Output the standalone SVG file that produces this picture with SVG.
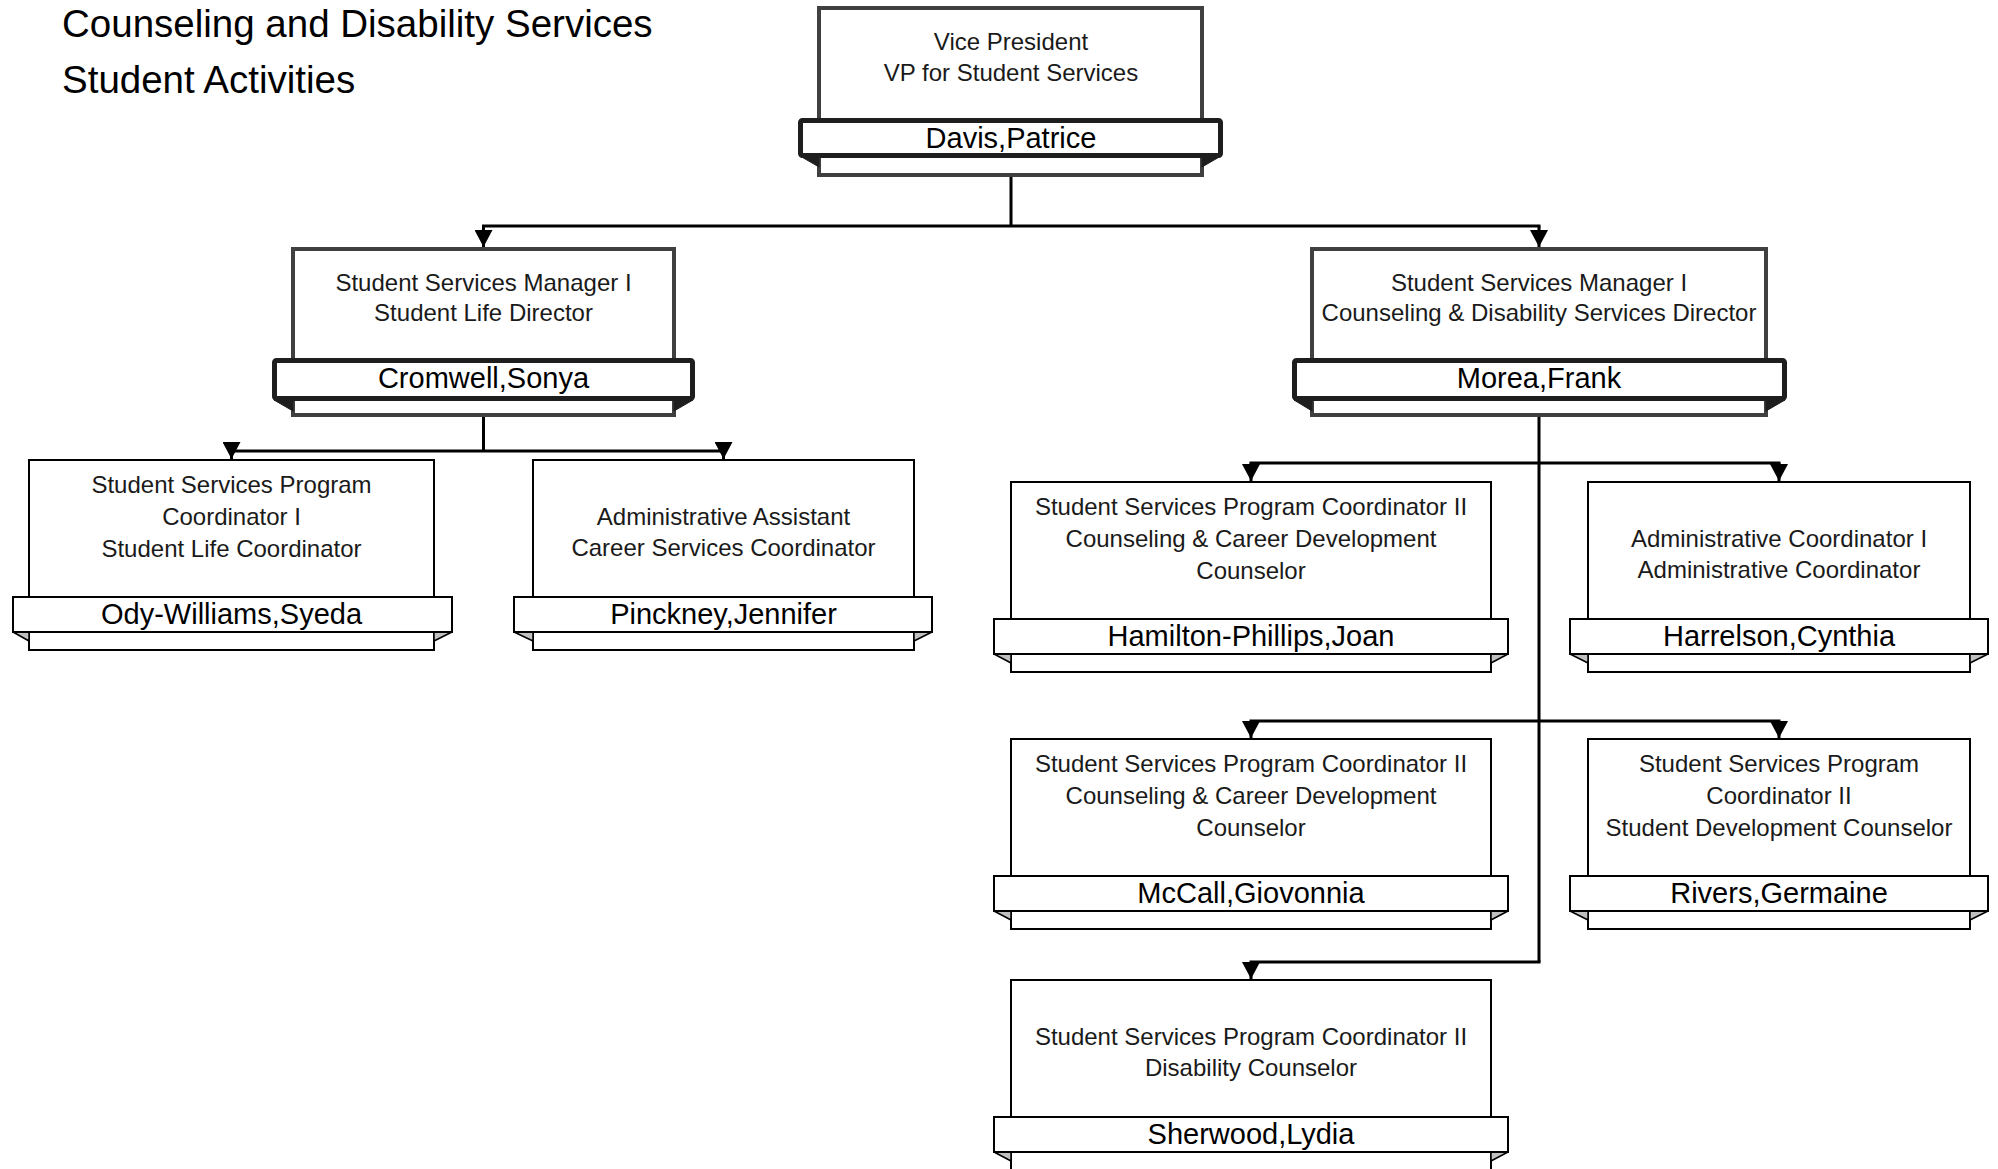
<svg xmlns="http://www.w3.org/2000/svg" width="1998" height="1169" viewBox="0 0 1998 1169">
<style>
.bg{fill:#fff}
.boxM{fill:#fff;stroke:#404040;stroke-width:4}
.bandM{fill:#fff;stroke:#1e1e1e;stroke-width:5}
.foldM{fill:#1e1e1e;stroke:#1e1e1e;stroke-width:1;stroke-linejoin:round}
.box3{fill:#fff;stroke:#000;stroke-width:2}
.band3{fill:#fff;stroke:#000;stroke-width:2}
.fold3{fill:#c0c0c0;stroke:#000;stroke-width:1.5;stroke-linejoin:round}
.t{font-family:"Liberation Sans",Arial,sans-serif;font-size:24px;fill:#1a1a1a;text-anchor:middle}
.n{font-family:"Liberation Sans",Arial,sans-serif;font-size:29px;fill:#000;text-anchor:middle}
.h{font-family:"Liberation Sans",Arial,sans-serif;font-size:38.5px;fill:#000}
.c{fill:none;stroke:#000;stroke-width:3}
.ch{fill:none;stroke:#000;stroke-width:3;stroke-linecap:square}
.a{fill:none;stroke:#000;stroke-width:3;marker-end:url(#arr)}
</style>
<defs>
<marker id="arr" viewBox="0 -9 17 18" refX="17" refY="0" markerWidth="17" markerHeight="18" markerUnits="userSpaceOnUse" orient="auto">
<path d="M0,-9 L17,0 L0,9 z" fill="#000"/>
</marker>
</defs>
<rect class="bg" x="0" y="0" width="1998" height="1169"/>

<g id="header">
<text class="h" x="62" y="37">Counseling and Disability Services</text>
<text class="h" x="62" y="93">Student Activities</text>
</g>

<g id="connectors">
<path class="c" d="M1011,177 V226"/>
<path class="ch" d="M483.5,226 H1539"/>
<path class="a" d="M483.5,226 V247"/>
<path class="a" d="M1539,226 V247"/>
<path class="c" d="M483.5,417 V451"/>
<path class="ch" d="M231.5,451 H723.5"/>
<path class="a" d="M231.5,451 V459"/>
<path class="a" d="M723.5,451 V459"/>
<path class="c" d="M1539,417 V962"/>
<path class="ch" d="M1251,463 H1779"/>
<path class="ch" d="M1251,721 H1779"/>
<path class="ch" d="M1251,962 H1539"/>
<path class="a" d="M1251,463 V481"/>
<path class="a" d="M1779,463 V481"/>
<path class="a" d="M1251,721 V738"/>
<path class="a" d="M1779,721 V738"/>
<path class="a" d="M1251,962 V979"/>
</g>

<g id="n-vp">
<rect class="boxM" x="819" y="8" width="383" height="167"/>
<polygon class="foldM" points="800,156 819,156 819,167"/>
<polygon class="foldM" points="1221,156 1202,156 1202,167"/>
<rect class="bandM" x="800.5" y="120.5" width="420" height="35" rx="2"/>
<text class="t" x="1011" y="50">Vice President</text>
<text class="t" x="1011" y="81">VP for Student Services</text>
<text class="n" x="1011" y="148">Davis,Patrice</text>
</g>

<g id="n-cromwell">
<rect class="boxM" x="293" y="249" width="381" height="166"/>
<polygon class="foldM" points="274,400 293,400 293,411"/>
<polygon class="foldM" points="693,400 674,400 674,411"/>
<rect class="bandM" x="274.5" y="360.5" width="418" height="38" rx="2"/>
<text class="t" x="483.5" y="291">Student Services Manager I</text>
<text class="t" x="483.5" y="321">Student Life Director</text>
<text class="n" x="483.5" y="388">Cromwell,Sonya</text>
</g>

<g id="n-morea">
<rect class="boxM" x="1312" y="249" width="454" height="166"/>
<polygon class="foldM" points="1294,400 1312,400 1312,411"/>
<polygon class="foldM" points="1785,400 1766,400 1766,411"/>
<rect class="bandM" x="1294.5" y="360.5" width="490" height="38" rx="2"/>
<text class="t" x="1539" y="291">Student Services Manager I</text>
<text class="t" x="1539" y="321">Counseling &amp; Disability Services Director</text>
<text class="n" x="1539" y="388">Morea,Frank</text>
</g>

<g id="n-ody-williams">
<rect class="box3" x="29" y="460" width="405" height="190"/>
<polygon class="fold3" points="13,632 29,632 29,641"/>
<polygon class="fold3" points="452,632 434,632 434,641"/>
<rect class="band3" x="13" y="597" width="439" height="35"/>
<text class="t" x="231.5" y="493">Student Services Program</text>
<text class="t" x="231.5" y="525">Coordinator I</text>
<text class="t" x="231.5" y="557">Student Life Coordinator</text>
<text class="n" x="231.5" y="624">Ody-Williams,Syeda</text>
</g>

<g id="n-pinckney">
<rect class="box3" x="533" y="460" width="381" height="190"/>
<polygon class="fold3" points="514,632 533,632 533,641"/>
<polygon class="fold3" points="932,632 914,632 914,641"/>
<rect class="band3" x="514" y="597" width="418" height="35"/>
<text class="t" x="723.5" y="525">Administrative Assistant</text>
<text class="t" x="723.5" y="556">Career Services Coordinator</text>
<text class="n" x="723.5" y="624">Pinckney,Jennifer</text>
</g>

<g id="n-hamilton-phillips">
<rect class="box3" x="1011" y="482" width="480" height="190"/>
<polygon class="fold3" points="994,654 1011,654 1011,663"/>
<polygon class="fold3" points="1508,654 1491,654 1491,663"/>
<rect class="band3" x="994" y="619" width="514" height="35"/>
<text class="t" x="1251" y="515">Student Services Program Coordinator II</text>
<text class="t" x="1251" y="547">Counseling &amp; Career Development</text>
<text class="t" x="1251" y="579">Counselor</text>
<text class="n" x="1251" y="646">Hamilton-Phillips,Joan</text>
</g>

<g id="n-harrelson">
<rect class="box3" x="1588" y="482" width="382" height="190"/>
<polygon class="fold3" points="1570,654 1588,654 1588,663"/>
<polygon class="fold3" points="1988,654 1970,654 1970,663"/>
<rect class="band3" x="1570" y="619" width="418" height="35"/>
<text class="t" x="1779" y="547">Administrative Coordinator I</text>
<text class="t" x="1779" y="578">Administrative Coordinator</text>
<text class="n" x="1779" y="646">Harrelson,Cynthia</text>
</g>

<g id="n-mccall">
<rect class="box3" x="1011" y="739" width="480" height="190"/>
<polygon class="fold3" points="994,911 1011,911 1011,920"/>
<polygon class="fold3" points="1508,911 1491,911 1491,920"/>
<rect class="band3" x="994" y="876" width="514" height="35"/>
<text class="t" x="1251" y="772">Student Services Program Coordinator II</text>
<text class="t" x="1251" y="804">Counseling &amp; Career Development</text>
<text class="t" x="1251" y="836">Counselor</text>
<text class="n" x="1251" y="903">McCall,Giovonnia</text>
</g>

<g id="n-rivers">
<rect class="box3" x="1588" y="739" width="382" height="190"/>
<polygon class="fold3" points="1570,911 1588,911 1588,920"/>
<polygon class="fold3" points="1988,911 1970,911 1970,920"/>
<rect class="band3" x="1570" y="876" width="418" height="35"/>
<text class="t" x="1779" y="772">Student Services Program</text>
<text class="t" x="1779" y="804">Coordinator II</text>
<text class="t" x="1779" y="836">Student Development Counselor</text>
<text class="n" x="1779" y="903">Rivers,Germaine</text>
</g>

<g id="n-sherwood">
<rect class="box3" x="1011" y="980" width="480" height="190"/>
<polygon class="fold3" points="994,1152 1011,1152 1011,1161"/>
<polygon class="fold3" points="1508,1152 1491,1152 1491,1161"/>
<rect class="band3" x="994" y="1117" width="514" height="35"/>
<text class="t" x="1251" y="1045">Student Services Program Coordinator II</text>
<text class="t" x="1251" y="1076">Disability Counselor</text>
<text class="n" x="1251" y="1144">Sherwood,Lydia</text>
</g>
</svg>
